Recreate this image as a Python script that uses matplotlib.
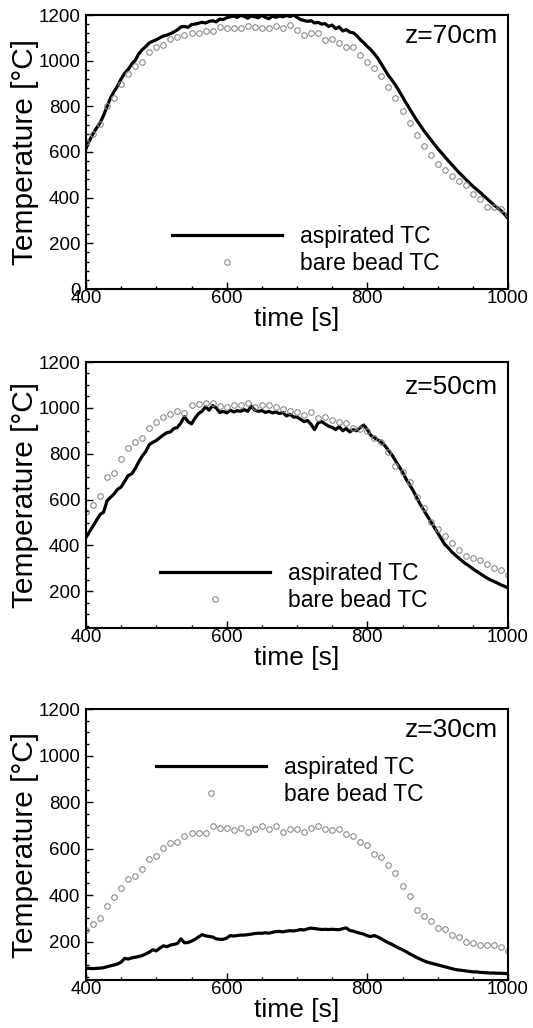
import numpy as np
import matplotlib.pyplot as plt
from matplotlib.ticker import MultipleLocator

plt.rcParams['font.family'] = ['Liberation Sans', 'DejaVu Sans']

# time axes (s)
t_asp = np.arange(400, 1001, 5)
t_bare = np.arange(400, 1001, 10)

# z = 70 cm
asp_70 = [615, 650, 680, 705, 728, 760, 800, 838, 865, 890,
          920, 945, 962, 985, 1002, 1030, 1048, 1062, 1078, 1085,
          1092, 1100, 1108, 1112, 1118, 1126, 1135, 1148, 1150, 1146,
          1158, 1160, 1164, 1168, 1165, 1172, 1175, 1170, 1182, 1180,
          1188, 1192, 1195, 1190, 1198, 1194, 1186, 1196, 1192, 1188,
          1198, 1190, 1184, 1195, 1190, 1196, 1192, 1198, 1193, 1200,
          1190, 1180, 1176, 1172, 1175, 1165, 1168, 1160, 1162, 1150,
          1156, 1140, 1148, 1130, 1136, 1125, 1122, 1110, 1092, 1078,
          1062, 1048, 1030, 1010, 985, 960, 935, 915, 893, 868,
          842, 815, 790, 765, 740, 718, 695, 675, 655, 635,
          615, 598, 580, 562, 545, 528, 511, 496, 480, 465,
          450, 437, 424, 410, 396, 382, 368, 356, 343, 328,
          310]
bare_70 = [644, 677, 721, 800, 837, 896, 941, 976, 993, 1037,
           1062, 1067, 1096, 1104, 1111, 1119, 1119, 1130, 1130, 1148,
           1145, 1141, 1145, 1151, 1148, 1141, 1145, 1151, 1141, 1156,
           1133, 1111, 1119, 1119, 1092, 1096, 1077, 1059, 1062, 1027,
           993, 967, 933, 884, 837, 781, 726, 674, 627, 585,
           548, 519, 496, 474, 455, 415, 393, 360, 360, 351,
           330]

# z = 50 cm
asp_50 = [435, 460, 485, 510, 535, 545, 595, 610, 625, 645,
          655, 680, 705, 712, 735, 765, 790, 810, 840, 850,
          858, 870, 882, 892, 895, 910, 915, 935, 962, 940,
          930, 955, 975, 985, 1005, 990, 1010, 1000, 980, 985,
          978, 990, 982, 988, 985, 992, 985, 1008, 990, 985,
          988, 980, 985, 978, 982, 975, 980, 965, 972, 960,
          960, 950, 940, 945, 928, 905, 935, 940, 930, 920,
          915, 905, 918, 900, 910, 895, 905, 900, 915, 925,
          905, 880, 870, 860, 850, 835, 815, 795, 770, 745,
          720, 690, 665, 640, 610, 580, 555, 530, 505, 480,
          455, 430, 405, 390, 372, 358, 345, 332, 320, 310,
          298, 288, 278, 268, 258, 250, 243, 236, 228, 222,
          215]
bare_50 = [548, 577, 616, 700, 717, 775, 826, 852, 867, 914,
           939, 958, 972, 986, 978, 1012, 1019, 1022, 1022, 1007,
           1004, 1014, 1014, 1022, 1004, 1012, 1012, 1004, 993, 987,
           983, 968, 983, 954, 961, 949, 939, 932, 914, 910,
           900, 867, 852, 809, 746, 722, 678, 613, 562, 504,
           471, 442, 410, 381, 355, 345, 338, 320, 301, 291,
           270]

# z = 30 cm
asp_30 = [85, 85, 84, 85, 86, 88, 92, 96, 100, 104,
          112, 128, 125, 130, 133, 136, 140, 147, 155, 165,
          160, 172, 182, 178, 185, 188, 192, 212, 195, 196,
          202, 210, 220, 230, 225, 222, 220, 212, 210, 210,
          215, 226, 224, 226, 228, 228, 230, 232, 235, 236,
          236, 238, 236, 240, 243, 244, 242, 245, 247, 246,
          248, 252, 250, 255, 258, 256, 254, 252, 253, 252,
          253, 252, 251, 256, 259, 248, 245, 240, 236, 232,
          225, 222, 226, 220, 212, 203, 195, 188, 180, 172,
          165, 157, 148, 140, 132, 125, 118, 112, 108, 104,
          100, 96, 92, 88, 84, 80, 78, 76, 74, 72,
          70, 70, 68, 67, 66, 65, 65, 64, 64, 63,
          62]
bare_30 = [250, 276, 300, 351, 391, 430, 468, 483, 511, 554,
           569, 602, 623, 630, 655, 666, 666, 666, 695, 688,
           688, 678, 688, 673, 683, 695, 683, 695, 670, 683,
           683, 670, 688, 695, 683, 681, 683, 663, 652, 630,
           616, 577, 563, 530, 497, 440, 394, 336, 310, 290,
           257, 253, 229, 219, 200, 193, 186, 186, 186, 178,
           161]

W, H = 533, 1028
fig = plt.figure(figsize=(W / 100, H / 100), dpi=100)


def panel(top, bottom, asp, bare, label, ymin, yminor, yticks, leg_xy, z_y):
    ax = fig.add_axes([86 / W, 1 - bottom / H, 422 / W, (bottom - top) / H])
    ax.plot(t_asp, asp, color='black', lw=2.3, label='aspirated TC')
    ax.plot(t_bare, bare, ls='none', marker='o', ms=4, mfc='none',
            mec='#8a8a8a', mew=0.8, label='bare bead TC')
    ax.set_xlim(400, 1000)
    ax.set_ylim(ymin, 1200)
    ax.set_xticks([400, 600, 800, 1000])
    ax.set_yticks(yticks)
    ax.xaxis.set_minor_locator(MultipleLocator(50))
    ax.yaxis.set_minor_locator(MultipleLocator(yminor))
    ax.tick_params(which='both', direction='in', labelsize=13.5, width=1)
    ax.tick_params(axis='x', pad=1)
    ax.tick_params(axis='y', pad=4)
    ax.tick_params(which='major', length=5)
    ax.tick_params(which='minor', length=2.5)
    for s in ax.spines.values():
        s.set_linewidth(1.5)
    ax.set_xlabel('time [s]', fontsize=19, labelpad=0)
    ax.set_ylabel('Temperature [°C]', fontsize=21.5, labelpad=0)
    ax.text(0.976, z_y, label, transform=ax.transAxes, ha='right',
            va='baseline', fontsize=19)
    ax.legend(loc='center left', bbox_to_anchor=leg_xy, frameon=False,
              fontsize=16.5, handlelength=4.8, handletextpad=0.8,
              labelspacing=0.15, borderpad=0, borderaxespad=0)
    return ax


panel(15, 289, asp_70, bare_70, 'z=70cm', 0, 40,
      [0, 200, 400, 600, 800, 1000, 1200], (0.204, 0.142), 0.897)
panel(362, 628, asp_50, bare_50, 'z=50cm', 40, 50,
      [200, 400, 600, 800, 1000, 1200], (0.175, 0.154), 0.88)
panel(709, 980, asp_30, bare_30, 'z=30cm', 35, 50,
      [200, 400, 600, 800, 1000, 1200], (0.166, 0.734), 0.895)

fig.savefig('out.png', dpi=100)
